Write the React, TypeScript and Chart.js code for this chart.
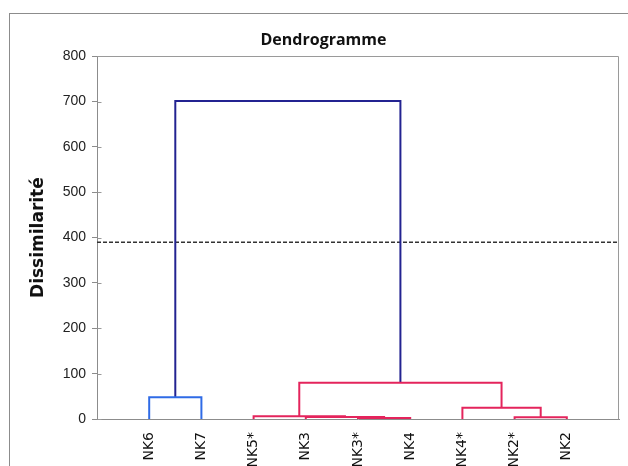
import React, { useEffect, useRef } from 'react';
import { Chart, registerables } from 'chart.js';

Chart.register(...registerables);

// Leaves in dendrogram order
const leaves = ['NK6', 'NK7', 'NK5*', 'NK3', 'NK3*', 'NK4', 'NK4*', 'NK2*', 'NK2'];

// Agglomeration steps: nodes 0-8 are leaves, node 9 + k is the result of step k
const mergeLeft = [4, 7, 3, 2, 6, 0, 12, 14];
const mergeRight = [5, 8, 9, 11, 10, 1, 13, 15];
const mergeHeight = [2, 4, 4.5, 6, 25, 48, 80, 701];
// Class of each step: 0 = root link, 1 = class {NK6, NK7}, 2 = remaining class
const mergeClass = [2, 2, 2, 2, 2, 1, 2, 0];

// Truncation level
const threshold = 390;

const yMin = 0;
const yMax = 800;
const yStep = 100;

const classColors = ['#232391', '#2f6be6', '#e4245c'];

type Pt = { x: number; y: number };

function buildLinks(): Pt[][] {
  const nodeX: number[] = leaves.map((_, i) => i + 1);
  const nodeY: number[] = leaves.map(() => 0);
  return mergeLeft.map((l, k) => {
    const r = mergeRight[k];
    const h = mergeHeight[k];
    const pts = [
      { x: nodeX[l], y: nodeY[l] },
      { x: nodeX[l], y: h },
      { x: nodeX[r], y: h },
      { x: nodeX[r], y: nodeY[r] },
    ];
    nodeX.push((nodeX[l] + nodeX[r]) / 2);
    nodeY.push(h);
    return pts;
  });
}

// Top and right edges of the plot box, plus tick marks running into the plot
const plotFrame = {
  id: 'plotFrame',
  beforeDatasetsDraw(chart: any) {
    const { ctx, chartArea: a } = chart;
    ctx.save();
    ctx.strokeStyle = '#9a9a9a';
    ctx.lineWidth = 1;
    const l = Math.round(a.left) + 0.5;
    const t = Math.round(a.top) + 0.5;
    const r = Math.round(a.right) - 0.5;
    const b = Math.round(a.bottom) + 0.5;
    ctx.beginPath();
    ctx.moveTo(l, t);
    ctx.lineTo(r, t);
    ctx.lineTo(r, b);
    const ys = chart.scales.y;
    ys.ticks.forEach((tk: any) => {
      const py = Math.round(ys.getPixelForValue(tk.value)) + 0.5;
      ctx.moveTo(l, py);
      ctx.lineTo(l + 4, py);
    });
    ctx.stroke();
    ctx.restore();
  },
};

export default function App() {
  const canvasRef = useRef<HTMLCanvasElement | null>(null);

  useEffect(() => {
    const canvas = canvasRef.current;
    if (!canvas) return;
    const links = buildLinks();
    const datasets: any[] = links.map((pts, k) => ({
      data: pts,
      showLine: true,
      borderColor: classColors[mergeClass[k]],
      borderWidth: 2,
      pointRadius: 0,
      fill: false,
      tension: 0,
    }));
    datasets.push({
      data: [
        { x: 0, y: threshold },
        { x: leaves.length + 1, y: threshold },
      ],
      showLine: true,
      borderColor: '#333333',
      borderWidth: 1.5,
      borderDash: [4, 2],
      pointRadius: 0,
      fill: false,
    });

    const chart = new Chart(canvas, {
      type: 'scatter',
      data: { datasets },
      plugins: [plotFrame],
      options: {
        animation: false,
        responsive: false,
        maintainAspectRatio: false,
        layout: { padding: { left: 28, right: 9, top: 0, bottom: 0 } },
        plugins: {
          legend: { display: false },
          tooltip: { enabled: false },
          title: {
            display: true,
            text: 'Dendrogramme',
            color: '#111',
            font: { family: '"Open Sans", sans-serif', size: 16, weight: 'bold', lineHeight: 1.2 },
            padding: { top: 31, bottom: 6 },
          },
        },
        scales: {
          x: {
            type: 'linear',
            min: 0,
            max: leaves.length + 1,
            afterFit: (s: any) => {
              s.height = 47;
            },
            afterBuildTicks: (s: any) => {
              s.ticks = leaves.map((_, i) => ({ value: i + 1 }));
            },
            ticks: {
              autoSkip: false,
              minRotation: 90,
              maxRotation: 90,
              padding: 5,
              color: '#111',
              font: { family: '"DejaVu Sans", sans-serif', size: 14 },
              callback: (v: any) => leaves[Number(v) - 1] ?? '',
            },
            grid: { display: false },
            border: { display: true, color: '#8c8c8c', width: 1 },
          },
          y: {
            min: yMin,
            max: yMax,
            afterFit: (s: any) => {
              s.width = 69;
            },
            ticks: {
              stepSize: yStep,
              padding: 6,
              color: '#222',
              font: { family: '"Liberation Sans", sans-serif', size: 14 },
            },
            grid: {
              display: true,
              drawOnChartArea: false,
              drawTicks: true,
              tickLength: 5,
              color: '#8c8c8c',
            },
            border: { display: true, color: '#8c8c8c', width: 1 },
            title: {
              display: true,
              text: 'Dissimilarité',
              color: '#111',
              padding: 0,
              font: { family: '"DejaVu Sans", sans-serif', size: 17, weight: 'bold', lineHeight: 1.2 },
            },
          },
        },
      },
    });
    return () => chart.destroy();
  }, []);

  return (
    <div
      style={{
        position: 'fixed',
        left: 0,
        top: 0,
        width: 628,
        height: 466,
        overflow: 'hidden',
        background: '#ffffff',
      }}
    >
      <div
        style={{
          position: 'absolute',
          left: 9,
          top: 13,
          width: 700,
          height: 520,
          border: '1px solid #8c8c8c',
        }}
      />
      <canvas
        ref={canvasRef}
        width={628}
        height={466}
        style={{ position: 'absolute', left: 0, top: 0, width: 628, height: 466 }}
      />
    </div>
  );
}
